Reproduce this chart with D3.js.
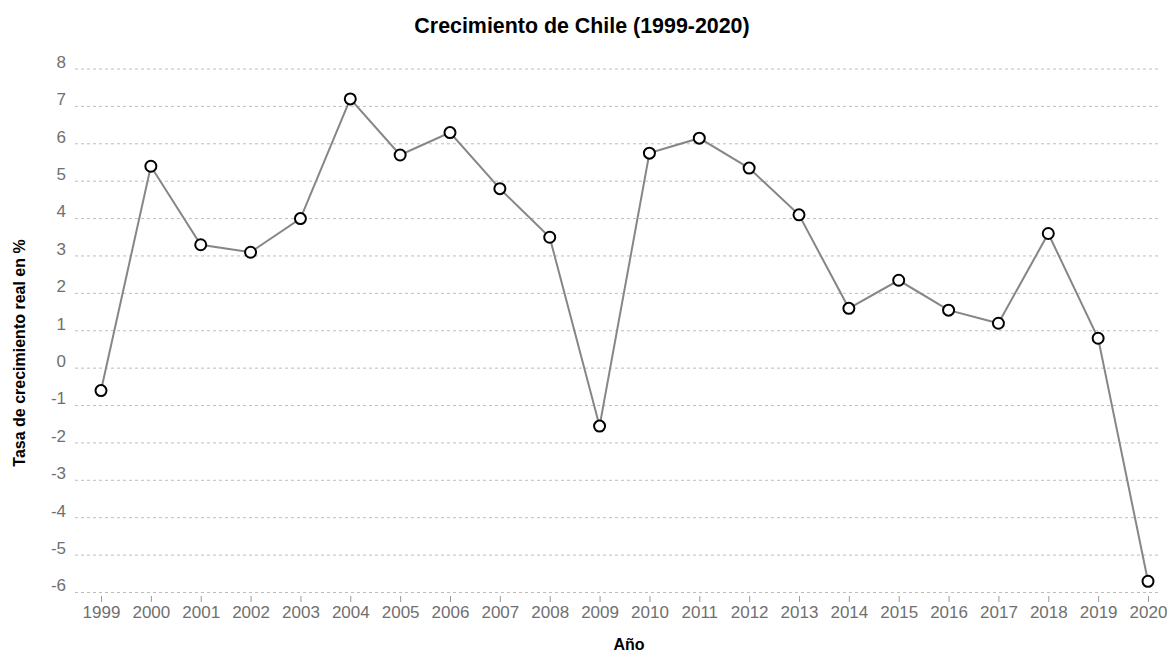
<!DOCTYPE html>
<html>
<head>
<meta charset="utf-8">
<script src="https://cdn.jsdelivr.net/npm/d3@7"></script>
<style>
  html, body { margin: 0; padding: 0; background: #fff; }
  svg { display: block; font-family: "Liberation Sans", Arial, sans-serif; }
</style>
</head>
<body>
<svg id="chart" width="1167" height="653"></svg>
<script>
const years = [1999, 2000, 2001, 2002, 2003, 2004, 2005, 2006, 2007, 2008, 2009,
               2010, 2011, 2012, 2013, 2014, 2015, 2016, 2017, 2018, 2019, 2020];
const growth = [-0.6, 5.4, 3.3, 3.1, 4.0, 7.2, 5.7, 6.3, 4.8, 3.5, -1.55,
                5.75, 6.15, 5.35, 4.1, 1.6, 2.35, 1.55, 1.2, 3.6, 0.8, -5.7];
const yTicks = [-6, -5, -4, -3, -2, -1, 0, 1, 2, 3, 4, 5, 6, 7, 8];
const titleText = "Crecimiento de Chile (1999-2020)";
const yTitle = "Tasa de crecimiento real en %";
const xTitle = "Año";

const data = years.map((y, i) => ({ year: y, value: growth[i] }));

const svg = d3.select("#chart");
const gridLeft = 75, gridRight = 1160;

const x = d3.scalePoint().domain(years).range([101, 1148]);
const y = d3.scaleLinear().domain([-6, 8]).range([592.5, 69]);

// title
svg.append("text")
  .attr("x", 582).attr("y", 33)
  .attr("text-anchor", "middle")
  .attr("font-size", 21.4).attr("font-weight", "bold").attr("fill", "#000")
  .text(titleText);

// grid lines
svg.append("g").selectAll("line").data(yTicks).join("line")
  .attr("x1", gridLeft).attr("x2", gridRight)
  .attr("y1", d => y(d)).attr("y2", d => y(d))
  .attr("stroke", "#bdbdbd").attr("stroke-width", 1)
  .attr("stroke-dasharray", "3,3");

// y axis labels
const yAxis = d3.axisLeft(y).tickValues(yTicks).tickSize(0).tickPadding(0).tickFormat(d => String(d));
const gy = svg.append("g").attr("transform", "translate(66,0)").call(yAxis);
gy.select(".domain").remove();
gy.selectAll("text")
  .attr("font-size", 17).attr("fill", "#707070")
  .attr("font-family", "Liberation Sans, Arial, sans-serif")
  .attr("dy", "-0.1em");

// x axis
const xAxis = d3.axisBottom(x).tickSize(6).tickPadding(4).tickFormat(d => String(d));
const gx = svg.append("g").attr("transform", "translate(0,596)").call(xAxis);
gx.select(".domain").remove();
gx.selectAll(".tick line").attr("stroke", "#999").attr("stroke-width", 1);
gx.selectAll("text")
  .attr("font-size", 17).attr("fill", "#707070")
  .attr("font-family", "Liberation Sans, Arial, sans-serif");

// axis titles
svg.append("text")
  .attr("transform", "translate(25,353) rotate(-90)")
  .attr("text-anchor", "middle")
  .attr("font-size", 16).attr("font-weight", "bold").attr("fill", "#000")
  .text(yTitle);

svg.append("text")
  .attr("x", 629).attr("y", 650)
  .attr("text-anchor", "middle")
  .attr("font-size", 16).attr("font-weight", "bold").attr("fill", "#000")
  .text(xTitle);

// line
const line = d3.line().x(d => x(d.year)).y(d => y(d.value));
svg.append("path").datum(data)
  .attr("d", line)
  .attr("fill", "none")
  .attr("stroke", "#868686")
  .attr("stroke-width", 2);

// points
svg.append("g").selectAll("circle").data(data).join("circle")
  .attr("cx", d => x(d.year)).attr("cy", d => y(d.value))
  .attr("r", 5.5)
  .attr("fill", "#fff")
  .attr("stroke", "#000")
  .attr("stroke-width", 2);
</script>
</body>
</html>
